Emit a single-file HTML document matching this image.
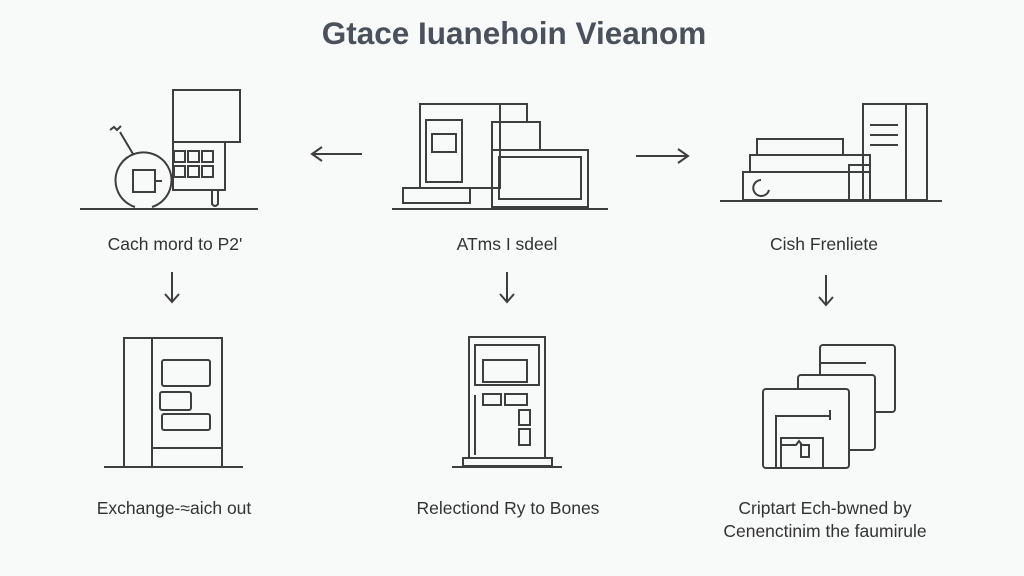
<!DOCTYPE html>
<html><head><meta charset="utf-8"><style>
html,body{margin:0;padding:0;background:#f8f9f9;}
svg{display:block;font-family:"Liberation Sans",sans-serif;}
</style></head><body>
<svg width="1024" height="576" viewBox="0 0 1024 576" xmlns="http://www.w3.org/2000/svg">
<rect width="1024" height="576" fill="#f8f9f9"/>
<text x="514" y="44" font-size="31.5" font-weight="bold" text-anchor="middle" fill="#4a505c">Gtace Iuanehoin Vieanom</text>
<g fill="none" stroke="#3e3e3e" stroke-width="2">
<line x1="80" y1="209" x2="258" y2="209"/>
<path d="M135 207 A28 28 0 1 1 152 207"/>
<rect x="133" y="170" width="22" height="22"/>
<line x1="155" y1="181" x2="162" y2="181"/>
<line x1="133" y1="154" x2="120" y2="132"/>
<path d="M110 130 l4 -3 l3 3 l4 -4"/>
<rect x="173" y="90" width="67" height="52"/>
<rect x="173" y="142" width="52" height="48"/>
<rect x="174" y="151" width="11" height="11"/><rect x="188" y="151" width="11" height="11"/><rect x="202" y="151" width="11" height="11"/>
<rect x="174" y="166" width="11" height="11"/><rect x="188" y="166" width="11" height="11"/><rect x="202" y="166" width="11" height="11"/>
<path d="M212 190 v14 q3 4 6 0 v-14"/>
<path d="M312 154 h50 M322 147 l-10 7 l10 7"/>
<path d="M636 156 h52 M678 149 l10 7 l-10 7"/>
<line x1="392" y1="209" x2="608" y2="209"/>
<rect x="420" y="104" width="80" height="84"/>
<rect x="426" y="120" width="36" height="62"/>
<rect x="432" y="134" width="24" height="18"/>
<rect x="500" y="104" width="27" height="18"/>
<rect x="492" y="122" width="48" height="28"/>
<rect x="492" y="150" width="96" height="57"/>
<rect x="499" y="157" width="82" height="42"/>
<rect x="403" y="188" width="67" height="15"/>
<line x1="720" y1="201" x2="942" y2="201"/>
<rect x="863" y="104" width="64" height="96"/>
<line x1="906" y1="104" x2="906" y2="200"/>
<rect x="757" y="139" width="86" height="16"/>
<rect x="750" y="155" width="120" height="17"/>
<rect x="743" y="172" width="127" height="28"/>
<rect x="849" y="165" width="21" height="35"/>
<line x1="870" y1="125" x2="898" y2="125"/><line x1="870" y1="135" x2="898" y2="135"/><line x1="870" y1="145" x2="898" y2="145"/>
<path d="M761 180 a8 8 0 1 0 8 10"/>
<path d="M172 272 v30 M165 294 l7 8 l7 -8"/>
<path d="M507 272 v30 M500 294 l7 8 l7 -8"/>
<path d="M826 275 v30 M819 297 l7 8 l7 -8"/>
<line x1="104" y1="467" x2="243" y2="467"/>
<rect x="124" y="338" width="98" height="129"/>
<line x1="152" y1="338" x2="152" y2="467"/>
<line x1="152" y1="448" x2="222" y2="448"/>
<rect x="162" y="360" width="48" height="26" rx="2"/>
<rect x="160" y="392" width="31" height="18" rx="2"/>
<rect x="162" y="414" width="48" height="16" rx="2"/>
<line x1="452" y1="467" x2="562" y2="467"/>
<rect x="463" y="458" width="89" height="8"/>
<rect x="469" y="337" width="76" height="121"/>
<rect x="475" y="345" width="64" height="40"/>
<rect x="483" y="360" width="44" height="22"/>
<rect x="483" y="394" width="18" height="11"/>
<rect x="505" y="394" width="22" height="11"/>
<rect x="519" y="410" width="11" height="15"/>
<rect x="519" y="429" width="11" height="16"/>
<line x1="475" y1="395" x2="475" y2="455"/>
<rect x="820" y="345" width="75" height="67" rx="3" fill="#f8f9f9"/>
<line x1="820" y1="363" x2="866" y2="363"/>
<rect x="798" y="375" width="77" height="75" rx="3" fill="#f8f9f9"/>
<rect x="763" y="389" width="86" height="79" rx="3" fill="#f8f9f9"/>
<path d="M776 468 v-52 h54 M830 410 v10"/>
<path d="M781 468 v-30 h42 v30"/>
<path d="M781 445 h15 l3 -4 l3 4"/>
<rect x="801" y="445" width="8" height="12"/>
</g>
<g font-size="17.5" fill="#333" text-anchor="middle">
<text x="175" y="250">Cach mord to P2'</text>
<text x="507" y="250">ATms I sdeel</text>
<text x="824" y="250">Cish Frenliete</text>
<text x="174" y="514">Exchange-≈aich out</text>
<text x="508" y="514">Relectiond Ry to Bones</text>
<text x="825" y="514">Criptart Ech-bwned by</text>
<text x="825" y="537">Cenenctinim the faumirule</text>
</g>
</svg>
</body></html>
